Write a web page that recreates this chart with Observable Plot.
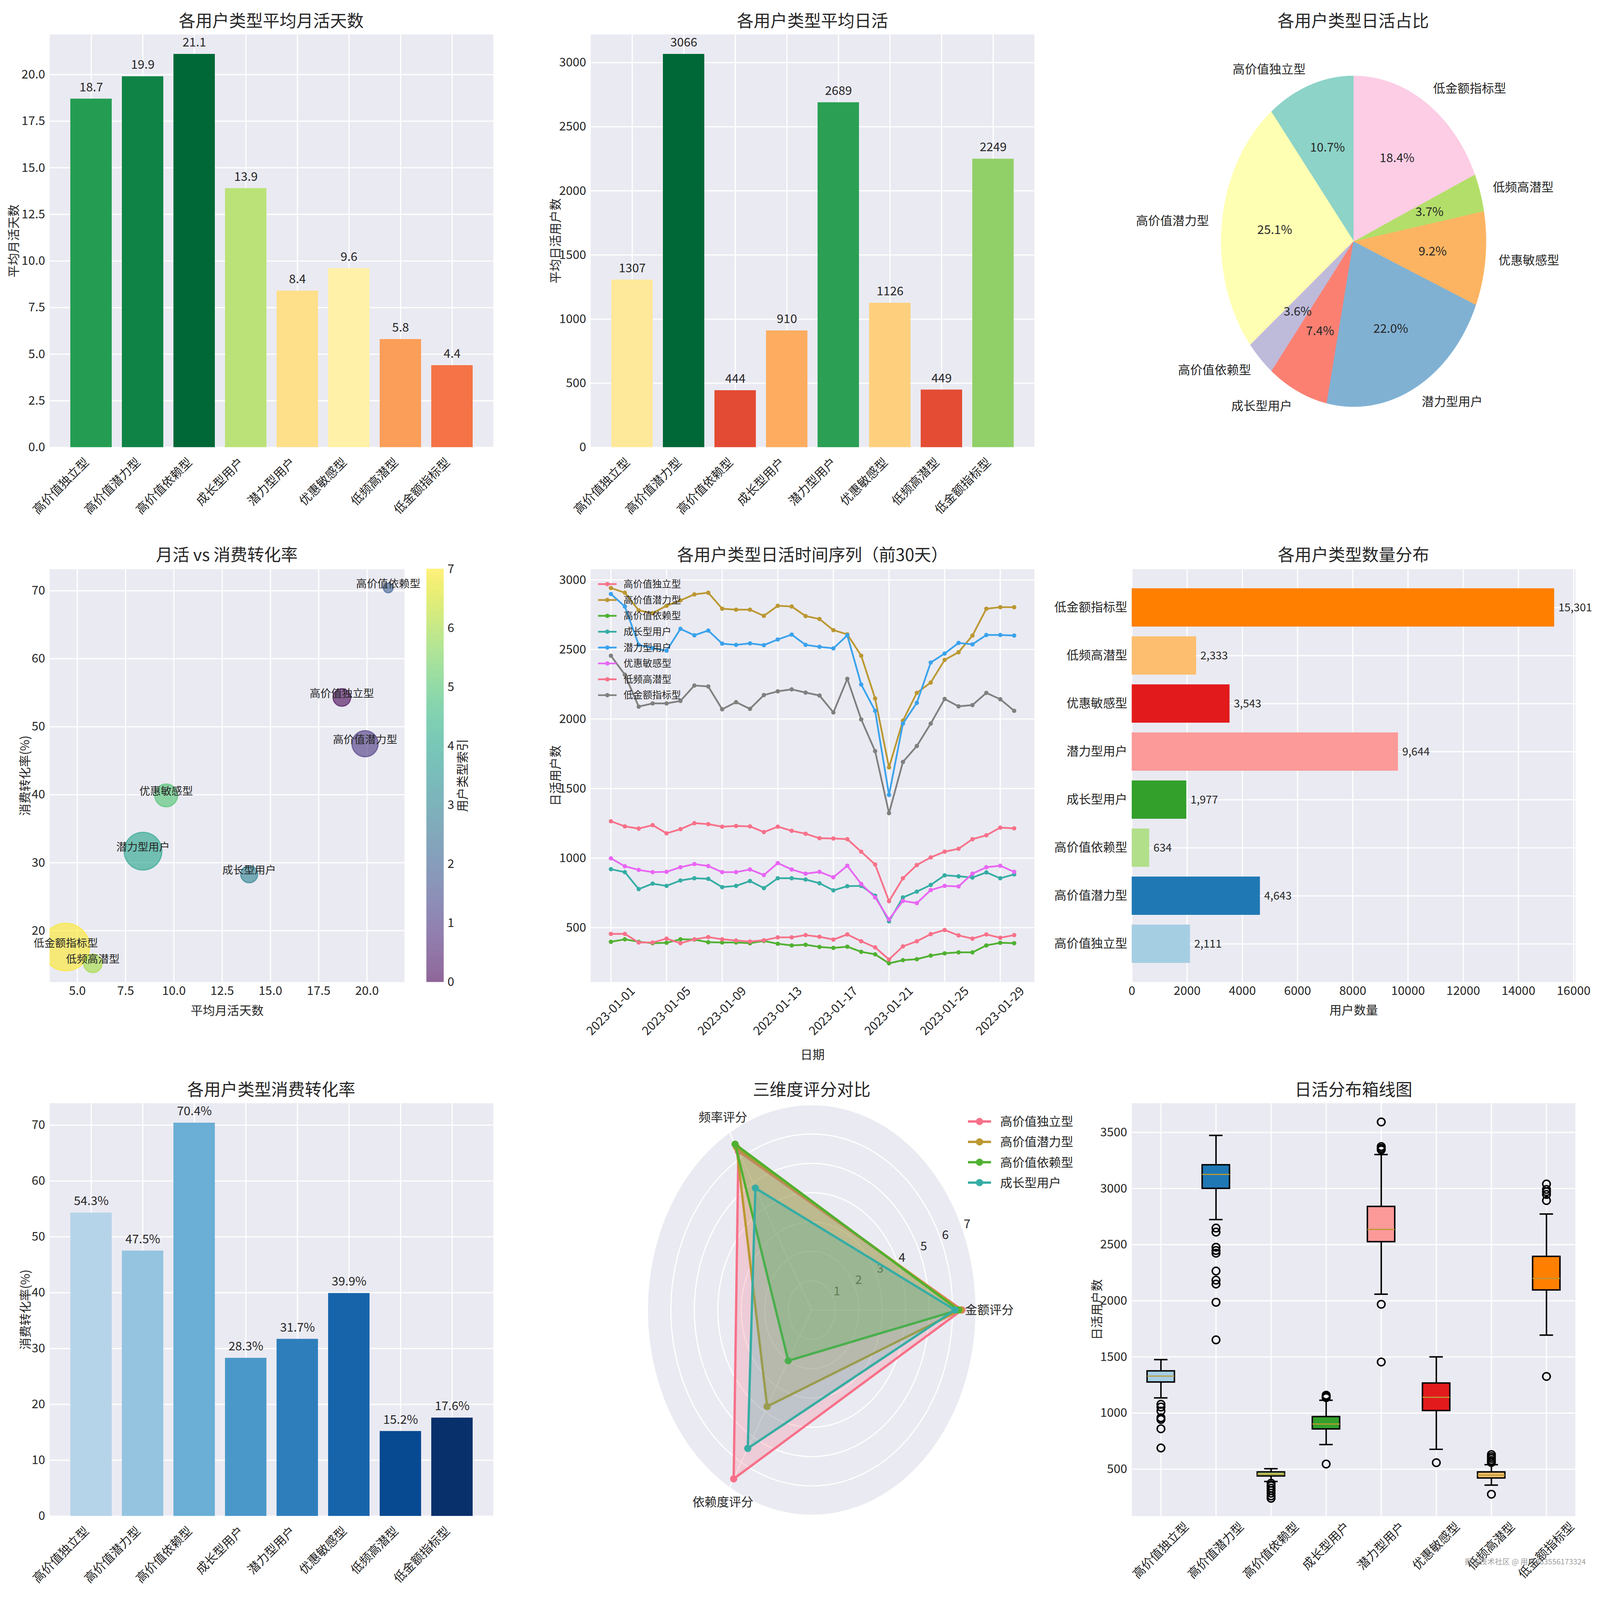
<!DOCTYPE html>
<html><head><meta charset="utf-8">
<script src="https://cdn.jsdelivr.net/npm/d3@7"></script>
<script src="https://cdn.jsdelivr.net/npm/@observablehq/plot@0.6"></script>
<style>
html,body{margin:0;padding:0;background:#fff;overflow:hidden}
#root{position:absolute;left:0;top:0;background:#fff;overflow:hidden;font-family:'Noto Sans CJK SC','Noto Sans',sans-serif;color:#262626}
.title{position:absolute;transform:translate(-50%,-50%);white-space:nowrap;color:#262626}
</style></head><body><div id="root"></div><script>
// ---------- data ----------
const types = ["高价值独立型","高价值潜力型","高价值依赖型","成长型用户","潜力型用户","优惠敏感型","低频高潜型","低金额指标型"];
const monthDays = [18.7,19.9,21.1,13.9,8.4,9.6,5.8,4.4];
const avgDau = [1307,3066,444,910,2689,1126,449,2249];
const dauShare = [10.7,25.1,3.6,7.4,22.0,9.2,3.7,18.4];
const convRate = [54.3,47.5,70.4,28.3,31.7,39.9,15.2,17.6];
const userCount = [2111,4643,634,1977,9644,3543,2333,15301];

const tsIndependent = [1265,1228,1212,1237,1178,1208,1251,1244,1226,1231,1228,1187,1226,1196,1175,1143,1141,1136,1046,954,690,855,950,1005,1046,1067,1136,1164,1219,1214];
const tsPotentialHV = [2942,2908,2781,2761,2814,2853,2896,2908,2793,2786,2786,2742,2814,2809,2740,2719,2639,2609,2455,2148,1652,1988,2188,2262,2425,2480,2600,2793,2804,2804];
const tsDependent = [398,416,398,388,391,416,414,395,393,393,388,404,384,372,377,361,354,363,326,308,243,266,273,299,315,322,322,372,391,388];
const tsGrowth = [920,899,777,816,800,839,855,851,791,800,835,784,855,855,846,819,768,798,800,729,545,717,759,807,876,869,860,897,855,883];
const tsPotential = [2899,2809,2533,2510,2491,2648,2602,2636,2542,2533,2544,2531,2572,2607,2533,2519,2508,2602,2248,2059,1454,1967,2116,2406,2471,2547,2537,2604,2604,2600];
const tsDiscount = [998,941,915,899,901,934,957,943,899,899,918,878,964,918,888,901,862,945,814,717,559,692,676,770,800,796,888,934,945,901];
const tsLowFreq = [455,455,393,393,421,388,416,432,416,407,400,409,430,430,446,434,414,451,402,358,271,365,402,453,483,444,421,451,427,446];
const tsLowAmount = [2455,2319,2089,2112,2112,2130,2241,2234,2070,2121,2073,2172,2199,2213,2190,2169,2047,2289,1997,1769,1323,1691,1806,1967,2144,2091,2100,2188,2142,2059];
const tsAll = [tsIndependent,tsPotentialHV,tsDependent,tsGrowth,tsPotential,tsDiscount,tsLowFreq,tsLowAmount];
const dates = d3.utcDay.range(new Date("2023-01-01"), new Date("2023-01-31"));

const radarSeries = ["高价值独立型","高价值潜力型","高价值依赖型","成长型用户"];
const radarAxes = ["金额评分","频率评分","依赖度评分"];
const radarAmount = [6.4,6.35,6.25,6.1];
const radarFreq = [6.25,6.41,6.53,4.8];
const radarDep = [6.65,3.8,2.0,5.45];

const boxLo = [1135,2723,390,719,2059,677,358,1694];
const boxQ1 = [1275,3000,438,857,2525,1021,420,2095];
const boxMed = [1329,3126,456,902,2636,1141,447,2199];
const boxQ3 = [1374,3210,474,967,2839,1266,474,2394];
const boxHi = [1476,3473,504,1114,3303,1500,540,2773];
const boxOutliers = [
  [1078,1054,1018,958,943,860,689],
  [2648,2612,2477,2448,2424,2265,2184,2149,1987,1652],
  [375,352,331,310,286,262,241],
  [1159,1147,1138,546],
  [3593,3374,3359,3345,1969,1455],
  [558],
  [630,612,596,578,560,277],
  [3040,2992,2971,2947,2893,1326]
];

// ---------- layout scaling (reference is 5959 x 4770) ----------
const VW = window.innerWidth || 5959, VH = window.innerHeight || 4770;
const sx = VW/5959, sy = VH/4770, fs = Math.min(sx, sy)*1.08;
const X = v => v*sx, Y = v => v*sy, F = v => v*fs;
const root = document.getElementById("root");
root.style.width = VW + "px"; root.style.height = VH + "px";

// ---------- styles ----------
const FONT = "'Noto Sans CJK SC','Noto Sans',sans-serif";
const TXT = "#262626";
const BG = "#eaeaf2";
const G = {stroke:"white", strokeOpacity:1, strokeWidth:F(4)};
const lineColors = ["#f77189","#bb9832","#50b131","#36ada4","#3ba3ec","#e866f4","#f77189","#808080"];
const radarColors = ["#f77189","#bb9832","#50b131","#36ada4"];
const set3 = ["#8dd3c7","#ffffb3","#bebada","#fb8072","#80b1d3","#fdb462","#b3de69","#fccde5"];
const paired = ["#a6cee3","#1f78b4","#b2df8a","#33a02c","#fb9a99","#e31a1c","#fdbf6f","#ff7f00"];
const rdylgn = d3.piecewise(d3.interpolateRgb, ["#a50026","#d73027","#f46d43","#fdae61","#fee08b","#ffffbf","#d9ef8b","#a6d96a","#66bd63","#1a9850","#006837"]);
const blues = d3.piecewise(d3.interpolateRgb, ["#f7fbff","#deebf7","#c6dbef","#9ecae1","#6baed6","#4292c6","#2171b5","#08519c","#08306b"]);
const baseStyle = {fontFamily: FONT, fontSize: F(42)+"px", color:TXT, background:"transparent", overflow:"visible", maxWidth:"none"};

const C1 = 184, C2 = 2200, C3 = 4215, W = 1652;
const R1 = 102, R2 = 1696, R3 = 3288, H = 1231;

function panel(area, m, opts) {
  const x0 = X(area.x), y0 = Y(area.y), w = X(area.w), h = Y(area.h);
  const mt = Y(m[0]), mr = X(m[1]), mb = Y(m[2]), ml = X(m[3]);
  const svg = Plot.plot({width: w + ml + mr, height: h + mt + mb,
    marginTop:mt, marginRight:mr, marginBottom:mb, marginLeft:ml, style: baseStyle, ...opts});
  const d = document.createElement("div");
  d.style.position = "absolute"; d.style.left = (x0 - ml) + "px"; d.style.top = (y0 - mt) + "px";
  d.appendChild(svg); root.appendChild(d);
}
function title(text, x, y) {
  const d = document.createElement("div"); d.className = "title";
  d.style.left = X(x) + "px"; d.style.top = Y(y) + "px"; d.style.fontSize = F(58) + "px";
  d.textContent = text; root.appendChild(d);
}
function legend(items, colors, o) {
  const rowH = Y(o.rowH), lineLen = X(o.lineLen), textOff = X(o.textOff);
  const svg = d3.create("svg").attr("width", X(700)).attr("height", items.length*rowH + 20)
    .style("position","absolute").style("left", (X(o.x) - 10) + "px").style("top", (Y(o.y) - rowH/2) + "px").style("overflow","visible");
  items.forEach((t,i) => {
    const cy = rowH/2 + i*rowH;
    svg.append("line").attr("x1",10).attr("x2",10+lineLen).attr("y1",cy).attr("y2",cy).attr("stroke",colors[i]).attr("stroke-width",F(o.sw));
    svg.append("circle").attr("cx",10+lineLen/2).attr("cy",cy).attr("r",F(o.r)).attr("fill",colors[i]);
    svg.append("text").attr("x",10+textOff).attr("y",cy).attr("dy","0.36em").attr("font-size",F(o.font))
      .attr("font-family",FONT).attr("fill",TXT).text(t);
  });
  root.appendChild(svg.node());
}
const rotRight = (dom) => Plot.text(dom, {x: d=>d, frameAnchor:"bottom", textAnchor:"end", lineAnchor:"middle", rotate:-45, dx:-F(15), dy:F(45)});
const rotCenter = (dom) => dom.map(t => Plot.text([t], {x: d=>d, frameAnchor:"bottom", textAnchor:"middle", lineAnchor:"middle", rotate:-45, dy: F(15 + (t.length+1)*42*0.3535)}));
const yLabel = (t, dx) => Plot.text([t], {frameAnchor:"left", dx:X(dx), rotate:-90, textAnchor:"middle", lineAnchor:"middle"});
const xLabel = (t, dy) => Plot.text([t], {frameAnchor:"bottom", dy:Y(dy), textAnchor:"middle", lineAnchor:"middle"});
const bandX = {type:"band", domain:types, paddingInner:0.2, paddingOuter:0.39, axis:null};
const M = [80, 60, 320, 170];
const AX = {tickSize:0, label:null};
const padY = X(17), padX = Y(12);

// ---------- panel 1 ----------
const d1 = types.map((t,i) => ({type:t, v:monthDays[i]}));
const max1 = d3.max(monthDays);
panel({x:C1, y:R1, w:W, h:H}, M, {
  x: bandX,
  y: {domain:[0, max1*1.05], axis:null},
  color: {type:"linear", domain:[0, max1], interpolate: rdylgn},
  marks: [
    Plot.frame({fill:BG, stroke:"none"}),
    Plot.gridY(d3.range(0, 20.01, 2.5), G),
    Plot.gridX(types, {...G, x:d=>d}),
    Plot.barY(d1, {x:"type", y:"v", fill:"v"}),
    Plot.text(d1, {x:"type", y:"v", text:d=>d.v.toFixed(1), lineAnchor:"bottom", dy:-F(26)}),
    Plot.axisY({...AX, ticks:d3.range(0, 20.01, 2.5), tickFormat:d3.format(".1f"), tickPadding:padY}),
    rotRight(types),
    yLabel("平均月活天数", -133)
  ]
});
title("各用户类型平均月活天数", C1 + W/2, 58);

// ---------- panel 2 ----------
const d2 = types.map((t,i) => ({type:t, v:avgDau[i]}));
const max2 = d3.max(avgDau);
panel({x:C2, y:R1, w:W, h:H}, M, {
  x: bandX,
  y: {domain:[0, max2*1.05], axis:null},
  color: {type:"linear", domain:[0, max2], interpolate: rdylgn},
  marks: [
    Plot.frame({fill:BG, stroke:"none"}),
    Plot.gridY(d3.range(0, 3001, 500), G),
    Plot.gridX(types, {...G, x:d=>d}),
    Plot.barY(d2, {x:"type", y:"v", fill:"v"}),
    Plot.text(d2, {x:"type", y:"v", text:d=>String(d.v), lineAnchor:"bottom", dy:-F(26)}),
    Plot.axisY({...AX, ticks:d3.range(0, 3001, 500), tickFormat:"d", tickPadding:padY}),
    rotRight(types),
    yLabel("平均日活用户数", -130)
  ]
});
title("各用户类型平均日活", C2 + W/2, 58);

// ---------- panel 3 (pie) ----------
const pieR = 493, pieCx = 5040, pieCy = 719, pieSide = 1300, pieH = (pieSide/2)/pieR;
const shareSum = d3.sum(dauShare);
let cum = 0;
const pieSlices = types.map((t,i) => {
  const a0 = 90 + 360*cum/shareSum; cum += dauShare[i]; const a1 = 90 + 360*cum/shareSum;
  const mid = (a0+a1)/2*Math.PI/180;
  return {type:t, a0, a1, share:dauShare[i], cx:Math.cos(mid), cy:Math.sin(mid)};
});
const piePts = pieSlices.flatMap(s => {
  const n = Math.ceil((s.a1-s.a0)/0.5), pts = [{type:s.type, x:0, y:0}];
  for (let k = 0; k <= n; k++) { const a = (s.a0 + (s.a1-s.a0)*k/n)*Math.PI/180; pts.push({type:s.type, x:Math.cos(a), y:Math.sin(a)}); }
  return pts;
});
panel({x:pieCx-pieSide/2, y:pieCy-pieSide/2, w:pieSide, h:pieSide}, [0,0,0,0], {
  x: {domain:[-pieH, pieH], axis:null},
  y: {domain:[-pieH, pieH], axis:null},
  color: {domain:types, range:set3},
  marks: [
    Plot.line(piePts, {x:"x", y:"y", z:"type", fill:"type", stroke:"type", strokeWidth:1}),
    Plot.text(pieSlices.filter(s=>s.cx<0), {x:s=>1.1*s.cx, y:s=>1.1*s.cy, text:"type", textAnchor:"end", lineAnchor:"middle"}),
    Plot.text(pieSlices.filter(s=>s.cx>=0), {x:s=>1.1*s.cx, y:s=>1.1*s.cy, text:"type", textAnchor:"start", lineAnchor:"middle"}),
    Plot.text(pieSlices, {x:s=>0.6*s.cx, y:s=>0.6*s.cy, text:s=>s.share.toFixed(1)+"%", lineAnchor:"middle"})
  ]
});
title("各用户类型日活占比", pieCx, 58);

// ---------- panel 4 (scatter) ----------
const d4 = types.map((t,i) => ({type:t, x:monthDays[i], y:convRate[i], n:userCount[i], idx:i}));
panel({x:C1, y:R2, w:1321, h:H}, M, {
  x: {domain:[3.57, 21.94], axis:null},
  y: {domain:[12.44, 73.16], axis:null},
  r: {type:"sqrt", domain:[0, 15301], range:[0, F(82)]},
  color: {type:"linear", domain:[0,7], scheme:"viridis"},
  marks: [
    Plot.frame({fill:BG, stroke:"none"}),
    Plot.gridX(d3.range(5, 20.01, 2.5), G),
    Plot.gridY(d3.range(20, 70.01, 10), G),
    Plot.dot(d4, {x:"x", y:"y", r:"n", fill:"idx", stroke:"idx", fillOpacity:0.6, strokeOpacity:0.6, strokeWidth:F(4), clip:true}),
    Plot.text(d4, {x:"x", y:"y", text:"type", fontSize:F(37), lineAnchor:"middle", dy:-F(13)}),
    Plot.axisX({...AX, ticks:d3.range(5, 20.01, 2.5), tickFormat:d3.format(".1f"), tickPadding:padX}),
    Plot.axisY({...AX, ticks:d3.range(20, 70.01, 10), tickFormat:"d", tickPadding:padY}),
    xLabel("平均月活天数", 86),
    yLabel("消费转化率(%)", -90)
  ]
});
const blendV = t => { const c = d3.rgb(d3.interpolateViridis(t)); return d3.rgb(c.r*0.6+255*0.4, c.g*0.6+255*0.4, c.b*0.6+255*0.4).formatHex(); };
panel({x:1588, y:R2, w:63, h:H}, [40, 200, 40, 0], {
  x: {domain:[0,1], axis:null},
  y: {domain:[0,7], axis:null},
  color: {type:"linear", domain:[0,7], interpolate: blendV},
  marks: [
    Plot.rect(d3.range(0, 7, 0.05), {x1:0, x2:1, y1:d=>d, y2:d=>Math.min(7, d+0.05), fill:d=>d+0.025, stroke:d=>d+0.025, strokeWidth:1}),
    Plot.axisY({...AX, anchor:"right", ticks:d3.range(0, 8), tickFormat:"d", tickPadding:X(14)}),
    Plot.text(["用户类型索引"], {frameAnchor:"right", dx:X(72), rotate:-90, textAnchor:"middle", lineAnchor:"middle"})
  ]
});
title("月活 vs 消费转化率", C1 + 1321/2, 1650);

// ---------- panel 5 (time series) ----------
const tickDates = dates.filter((d,i) => i % 4 === 0);
const dayMs = 864e5;
const tsMarks = [];
tsAll.forEach((s,i) => {
  const data = dates.map((d,j) => ({date:d, v:s[j]}));
  tsMarks.push(Plot.line(data, {x:"date", y:"v", stroke:lineColors[i], strokeWidth:F(6)}));
  tsMarks.push(Plot.dot(data, {x:"date", y:"v", fill:lineColors[i], r:F(7.5)}));
});
panel({x:C2, y:R2, w:W, h:H}, M, {
  x: {type:"utc", domain:[new Date(+dates[0] - 1.45*dayMs), new Date(+dates[29] + 1.45*dayMs)], axis:null},
  y: {domain:[108, 3077], axis:null},
  marks: [
    Plot.frame({fill:BG, stroke:"none"}),
    Plot.gridX(tickDates, G),
    Plot.gridY(d3.range(500, 3001, 500), G),
    ...tsMarks,
    Plot.axisY({...AX, ticks:d3.range(500, 3001, 500), tickFormat:"d", tickPadding:padY}),
    Plot.text(tickDates, {x:d=>d, text:d=>d3.utcFormat("%Y-%m-%d")(d), frameAnchor:"bottom", rotate:-45, textAnchor:"middle", lineAnchor:"middle", dy:F(100)}),
    xLabel("日期", 218),
    yLabel("日活用户数", -130)
  ]
});
legend(types, lineColors, {x:2228, y:1741, rowH:47.3, lineLen:69, r:7.5, sw:6, textOff:95, font:33});
title("各用户类型日活时间序列（前30天）", C2 + W/2, 1650);

// ---------- panel 6 (horizontal bars) ----------
const d6 = types.map((t,i) => ({type:t, v:userCount[i]}));
panel({x:C3, y:R2, w:W, h:H}, [80, 60, 320, 300], {
  y: {type:"band", domain:types.slice().reverse(), paddingInner:0.2, paddingOuter:0.39, axis:null},
  x: {domain:[0, d3.max(userCount)*1.05], axis:null},
  color: {domain:types, range:paired},
  marks: [
    Plot.frame({fill:BG, stroke:"none"}),
    Plot.gridX(d3.range(0, 16001, 2000), G),
    Plot.gridY(types, {...G, y:d=>d}),
    Plot.barX(d6, {y:"type", x:"v", fill:"type"}),
    Plot.text(d6, {y:"type", x:"v", text:d=>d3.format(",")(d.v), textAnchor:"start", dx:X(15), fontSize:F(38)}),
    Plot.axisX({...AX, ticks:d3.range(0, 16001, 2000), tickFormat:"d", tickPadding:padX}),
    Plot.axisY({...AX, tickPadding:padY}),
    xLabel("用户数量", 85)
  ]
});
title("各用户类型数量分布", C3 + W/2, 1650);

// ---------- panel 7 ----------
const d7 = types.map((t,i) => ({type:t, v:convRate[i], idx:i}));
panel({x:C1, y:R3, w:W, h:H}, M, {
  x: bandX,
  y: {domain:[0, d3.max(convRate)*1.05], axis:null},
  color: {type:"linear", domain:[0,7], interpolate: t => blues(0.3 + 0.7*t)},
  marks: [
    Plot.frame({fill:BG, stroke:"none"}),
    Plot.gridY(d3.range(0, 70.01, 10), G),
    Plot.gridX(types, {...G, x:d=>d}),
    Plot.barY(d7, {x:"type", y:"v", fill:"idx"}),
    Plot.text(d7, {x:"type", y:"v", text:d=>d.v.toFixed(1)+"%", lineAnchor:"bottom", dy:-F(26)}),
    Plot.axisY({...AX, ticks:d3.range(0, 70.01, 10), tickFormat:"d", tickPadding:padY}),
    rotRight(types),
    yLabel("消费转化率(%)", -89)
  ]
});
title("各用户类型消费转化率", C1 + W/2, 3245);

// ---------- panel 8 (radar) ----------
const rCx = 3023, rCy = 3905, rSide = 1500, rMax = 7, rPx = 612, rH = (rSide/2)/rPx*rMax;
const axAng = radarAxes.map((a,i) => i*120*Math.PI/180);
const circ = (r, key) => d3.range(0, 361, 2).map(a => ({k:key, x:r*Math.cos(a*Math.PI/180), y:r*Math.sin(a*Math.PI/180)}));
const gridPts = d3.range(1, 8).flatMap(r => circ(r, r));
const radarMarks = [];
radarSeries.forEach((s,i) => {
  const vals = [radarAmount[i], radarFreq[i], radarDep[i]];
  const pts = vals.map((v,j) => ({x:v*Math.cos(axAng[j]), y:v*Math.sin(axAng[j])}));
  const poly = [...pts, pts[0]];
  radarMarks.push(Plot.line(poly, {x:"x", y:"y", stroke:radarColors[i], strokeWidth:F(8)}));
  radarMarks.push(Plot.dot(pts, {x:"x", y:"y", fill:radarColors[i], r:F(12.5)}));
  radarMarks.push(Plot.line(poly, {x:"x", y:"y", fill:radarColors[i], fillOpacity:0.25, stroke:"none"}));
});
const rTickAng = 22.5*Math.PI/180;
panel({x:rCx-rSide/2, y:rCy-rSide/2, w:rSide, h:rSide}, [0,0,0,0], {
  x: {domain:[-rH, rH], axis:null},
  y: {domain:[-rH, rH], axis:null},
  marks: [
    Plot.line(circ(rMax, 0), {x:"x", y:"y", fill:BG, stroke:"none"}),
    Plot.line(gridPts, {x:"x", y:"y", z:"k", ...G}),
    Plot.link(axAng, {x1:0, y1:0, x2:a=>rMax*Math.cos(a), y2:a=>rMax*Math.sin(a), ...G}),
    Plot.text(d3.range(1, 8), {x:r=>r*Math.cos(rTickAng), y:r=>r*Math.sin(rTickAng), text:r=>String(r), dx:X(13), dy:-Y(22), fill:TXT}),
    ...radarMarks,
    Plot.text(radarAxes, {x:(d,i)=>7.57*Math.cos(axAng[i]), y:(d,i)=>7.57*Math.sin(axAng[i]), text:d=>d, lineAnchor:"middle"})
  ]
});
legend(radarSeries, radarColors, {x:3605, y:3343, rowH:60.7, lineLen:86, r:12.5, sw:8, textOff:120, font:42});
title("三维度评分对比", rCx, 3245);

// ---------- panel 9 (box plot) ----------
const d9 = types.map((t,i) => ({type:t, lo:boxLo[i], q1:boxQ1[i], med:boxMed[i], q3:boxQ3[i], hi:boxHi[i]}));
const d9o = types.flatMap((t,i) => boxOutliers[i].map(v => ({type:t, v})));
const step9 = X(W)/8;
panel({x:C3, y:R3, w:W, h:H}, M, {
  x: {type:"band", domain:types, padding:0, axis:null},
  y: {domain:[82, 3760], axis:null},
  color: {domain:types, range:paired},
  marks: [
    Plot.frame({fill:BG, stroke:"none"}),
    Plot.gridY(d3.range(500, 3501, 500), G),
    Plot.gridX(types, {...G, x:d=>d}),
    Plot.ruleX(d9, {x:"type", y1:"lo", y2:"q1", stroke:"black", strokeWidth:F(5)}),
    Plot.ruleX(d9, {x:"type", y1:"q3", y2:"hi", stroke:"black", strokeWidth:F(5)}),
    Plot.tickY(d9, {x:"type", y:"lo", stroke:"black", strokeWidth:F(5), insetLeft:step9*0.375, insetRight:step9*0.375}),
    Plot.tickY(d9, {x:"type", y:"hi", stroke:"black", strokeWidth:F(5), insetLeft:step9*0.375, insetRight:step9*0.375}),
    Plot.barY(d9, {x:"type", y1:"q1", y2:"q3", fill:"type", stroke:"black", strokeWidth:F(5), insetLeft:step9*0.25, insetRight:step9*0.25}),
    Plot.tickY(d9, {x:"type", y:"med", stroke:"#bb9832", strokeWidth:F(4), insetLeft:step9*0.25, insetRight:step9*0.25}),
    Plot.dot(d9o, {x:"type", y:"v", r:F(13), stroke:"black", strokeWidth:F(5), fill:"none"}),
    Plot.axisY({...AX, ticks:d3.range(500, 3501, 500), tickFormat:"d", tickPadding:padY}),
    ...rotCenter(types),
    yLabel("日活用户数", -128)
  ]
});
title("日活分布箱线图", C3 + W/2, 3245);

// watermark
const wm = document.createElement("div");
wm.textContent = "掘金技术社区 @ 用户963556173324";
wm.style.cssText = `position:absolute;left:${X(5455)}px;top:${Y(4638)}px;font-size:${F(26)}px;color:rgba(120,120,120,0.75);white-space:nowrap`;
root.appendChild(wm);
</script></body></html>
